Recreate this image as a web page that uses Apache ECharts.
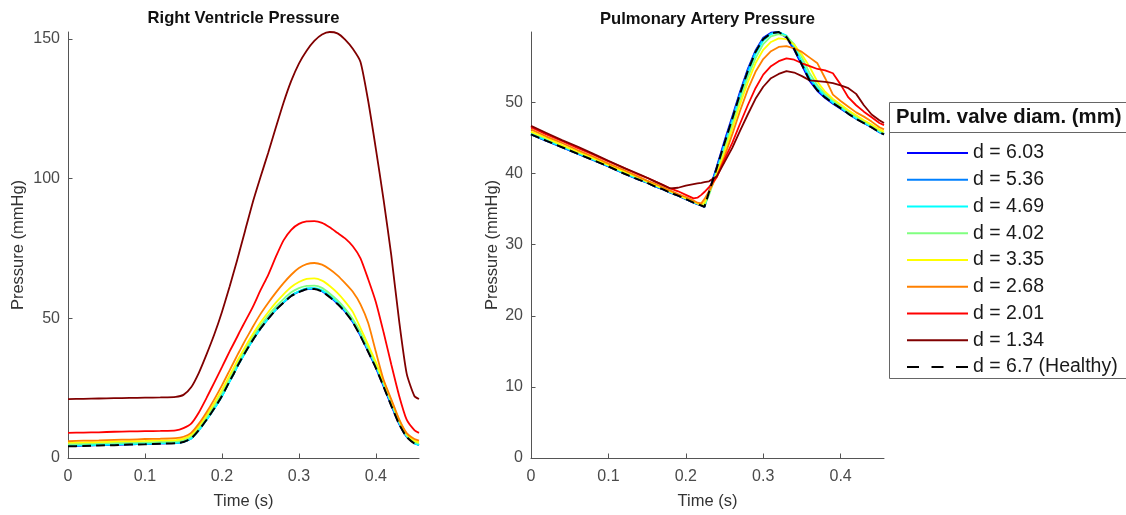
<!DOCTYPE html>
<html>
<head>
<meta charset="utf-8">
<script src="https://cdn.jsdelivr.net/npm/echarts@6/dist/echarts.min.js"></script>
<style>html,body{margin:0;padding:0;background:#fff}#c{width:1126px;height:515px}</style>
</head>
<body>
<div id="c"></div>
<script>
// Time samples (s)
const T = [0,0.02,0.04,0.06,0.08,0.10,0.12,0.14, 0.15,0.16,0.17,0.18,0.19,0.20,0.21, 0.215,0.22,0.224,0.23, 0.24,0.25,0.26,0.27,0.28,0.29,0.30,0.31,0.32,0.33,0.34,0.35,0.36,0.37,0.38,0.39,0.40,0.41,0.42,0.43,0.44,0.45, 0.456];

const names = ['d = 6.03','d = 5.36','d = 4.69','d = 4.02','d = 3.35','d = 2.68','d = 2.01','d = 1.34','d = 6.7 (Healthy)'];
const colors = ['#0000ff','#0080ff','#00ffff','#80ff80','#ffff00','#ff8000','#ff0000','#800000','#000000'];

// Right ventricle pressure (mmHg)
const rv603 = [4.3,4.4,4.6,4.7,4.9,5.0,5.2,5.4, 5.8,7.1,10.1,13.8,17.8,22.3,27.6, 30.1,32.9,34.9,37.8, 42.3,46.4,49.9,53.1,55.7,58.1,59.5,60.5,60.6,59.7,57.7,55.3,52.4,48.7,43.7,38.1,32.3,25.6,18.8,12.3,7.6,5.3, 4.7];
const rv536 = [4.4,4.5,4.6,4.8,4.9,5.0,5.2,5.4, 5.8,7.0,10.0,13.7,17.7,22.2,27.5, 30.0,32.8,34.8,37.7, 42.2,46.3,49.9,53.1,55.7,58.1,59.6,60.6,60.7,59.8,57.9,55.5,52.6,48.9,44.0,38.4,32.6,25.9,19.1,12.5,7.7,5.3, 4.7];
const rv469 = [4.5,4.6,4.7,4.9,5.0,5.1,5.3,5.4, 5.8,7.0,9.9,13.6,17.6,22.1,27.4, 29.9,32.7,34.7,37.6, 42.2,46.3,49.9,53.1,55.8,58.2,59.7,60.7,60.8,60.0,58.1,55.8,52.9,49.3,44.5,38.9,33.0,26.4,19.6,12.9,7.9,5.3, 4.7];
const rv402 = [5.0,5.1,5.2,5.4,5.5,5.6,5.8,5.9, 6.4,7.7,10.8,14.6,18.7,23.3,28.5, 31.1,33.8,35.8,38.7, 43.3,47.4,51.0,54.2,56.9,59.3,60.8,61.6,61.7,60.9,58.9,56.5,53.5,49.8,45.0,39.3,33.4,26.8,19.9,13.1,8.1,5.7, 5.1];
const rv335 = [5.5,5.6,5.7,5.9,6.0,6.1,6.3,6.4, 6.9,8.3,11.5,15.4,19.7,24.4,29.6, 32.2,34.8,36.8,39.7, 44.3,48.5,52.2,55.6,58.6,61.2,63.0,64.1,64.3,63.5,61.6,59.1,56.0,52.3,46.5,40.5,34.3,27.5,20.6,13.7,8.6,6.2, 5.6];
const rv268 = [6.0,6.2,6.3,6.5,6.6,6.8,6.9,7.1, 7.6,9.0,12.3,16.4,21.0,26.0,31.4, 34.1,36.8,38.9,42.0, 46.9,51.5,55.5,59.2,62.6,65.6,68.0,69.4,69.8,69.2,67.6,65.4,62.6,59.5,55.0,48.3,38.0,28.0,21.0,14.0,8.9,6.8, 6.2];
const rv201 = [9.0,9.1,9.2,9.4,9.5,9.6,9.7,9.9, 10.7,12.3,16.3,21.5,27.0,32.5,38.2, 40.8,43.5,45.7,48.8, 54.0,60.0,65.5,72.0,77.9,81.7,83.8,84.7,84.8,84.2,82.6,80.6,78.6,75.8,71.5,64.0,55.8,45.0,33.5,22.5,13.7,10.0, 9.0];
const rv134 = [21.1,21.2,21.3,21.4,21.5,21.6,21.7,21.9, 22.6,25.3,30.5,37.1,44.2,52.3,61.4, 66.2,71.1,75.2,81.3, 91.5,100.5,109.2,118.3,127.2,135.0,141.2,145.8,149.3,151.6,152.5,152.0,149.8,146.5,141.8,127.8,110.6,92.4,72.5,49.5,30.2,22.2, 21.1];
const rvHealthy = [4.2,4.3,4.5,4.6,4.8,4.9,5.1,5.3, 5.7,7.0,10.0,13.7,17.7,22.2,27.5, 30.0,32.8,34.8,37.7, 42.2,46.3,49.8,53.0,55.6,58.0,59.4,60.4,60.5,59.6,57.6,55.2,52.3,48.6,43.6,38.0,32.2,25.5,18.7,12.2,7.5,5.2, 4.6];

// Pulmonary artery pressure (mmHg)
const pa603 = [45.5,44.6,43.7,42.8,41.9,41.0,40.0,39.1, 38.7,38.2,37.8,37.3,36.9,36.4,35.9, 35.7,35.5,35.3,37.5, 41.0,44.6,48.0,51.5,54.7,57.3,59.1,59.8,59.9,59.1,57.4,55.2,53.0,51.6,50.6,49.8,49.1,48.4,47.7,47.1,46.5,45.8, 45.5];
const pa536 = [45.5,44.6,43.7,42.8,41.9,41.0,40.0,39.1, 38.7,38.2,37.8,37.3,36.9,36.4,35.9, 35.7,35.5,35.3,37.4, 40.8,44.3,47.8,51.3,54.5,57.2,59.0,59.7,59.9,59.3,57.7,55.5,53.3,51.8,50.8,49.9,49.2,48.4,47.7,47.1,46.5,45.8, 45.5];
const pa469 = [45.6,44.7,43.8,42.9,42.0,41.1,40.1,39.2, 38.8,38.3,37.9,37.4,37.0,36.5,36.0, 35.8,35.6,35.4,37.2, 40.4,43.9,47.3,50.8,54.0,56.8,58.7,59.6,59.9,59.4,57.9,55.7,53.5,52.0,50.9,50.0,49.3,48.5,47.8,47.2,46.6,45.9, 45.6];
const pa402 = [45.8,44.9,43.9,43.0,42.1,41.2,40.2,39.3, 38.8,38.4,37.9,37.4,37.0,36.5,36.0, 35.8,35.6,35.5,37.0, 40.2,43.5,46.9,50.3,53.5,56.2,58.2,59.3,59.6,59.3,58.2,56.3,54.1,52.4,51.2,50.3,49.5,48.7,48.0,47.4,46.7,46.0, 45.7];
const pa335 = [45.9,45.0,44.0,43.1,42.2,41.2,40.3,39.4, 38.9,38.4,37.9,37.5,37.0,36.5,36.1, 35.8,35.6,35.9,37.4, 40.0,43.0,46.3,49.7,52.8,55.5,57.4,58.5,59.0,58.9,58.1,56.7,55.0,52.9,51.5,50.5,49.7,48.9,48.2,47.5,46.9,46.2, 45.9];
const pa268 = [46.2,45.2,44.3,43.3,42.4,41.4,40.5,39.5, 39.0,38.6,38.1,37.6,37.1,36.7,36.2, 35.9,35.8,36.4,37.5, 39.6,42.4,45.5,48.8,51.8,54.3,56.1,57.2,57.8,57.9,57.6,57.1,56.3,55.5,53.4,51.1,50.2,49.4,48.6,48.0,47.3,46.5, 46.2];
const pa201 = [46.5,45.5,44.6,43.6,42.7,41.7,40.8,39.8, 39.4,38.9,38.4,37.9,37.5,37.0,36.5, 36.6,37.0,37.4,38.1, 39.5,42.0,44.3,47.0,49.6,52.0,53.9,55.1,55.8,56.2,56.0,55.5,55.1,54.7,54.5,54.1,52.5,50.7,49.6,48.7,47.9,47.1, 46.8];
const pa134 = [46.7,45.7,44.7,43.8,42.8,41.8,40.8,39.9, 39.4,38.9,38.4,37.9,38.0,38.3,38.5, 38.6,38.7,38.8,38.9, 39.6,41.6,43.6,46.0,48.3,50.5,52.2,53.4,54.0,54.4,54.2,53.7,53.1,53.0,52.9,52.7,52.4,52.0,51.2,49.6,48.3,47.5, 47.1];
const paHealthy = [45.5,44.6,43.7,42.8,41.9,41.0,40.0,39.1, 38.7,38.2,37.8,37.3,36.9,36.4,35.9, 35.7,35.5,35.3,37.4, 40.8,44.3,47.7,51.2,54.4,57.1,58.9,59.7,59.9,59.2,57.5,55.3,53.1,51.7,50.7,49.9,49.2,48.4,47.7,47.1,46.5,45.8, 45.5];

const xTicks = {min: 0, max: 0.456, interval: 0.1};
const rvTicks = {min: 0, max: 152.5, interval: 50};
const paTicks = {min: 0, max: 59.9, interval: 10};

const rvSets = [rv603, rv536, rv469, rv402, rv335, rv268, rv201, rv134, rvHealthy];
const paSets = [pa603, pa536, pa469, pa402, pa335, pa268, pa201, pa134, paHealthy];

const FONT = '"Liberation Sans", Arial, Helvetica, sans-serif';
const AX = '#555555';
const LBL = '#4a4a4a';

function xAxis(gi) {
  return {
    type: 'value', gridIndex: gi, min: xTicks.min, max: xTicks.max, interval: xTicks.interval,
    name: 'Time (s)', nameLocation: 'middle', nameGap: 35,
    nameTextStyle: {fontSize: 16.5, color: '#333', fontFamily: FONT},
    axisLine: {show: true, onZero: false, lineStyle: {color: AX, width: 1}},
    axisTick: {show: true, inside: true, length: 4.5, lineStyle: {color: AX}},
    axisLabel: {fontSize: 16, color: LBL, fontFamily: FONT, margin: 11, showMaxLabel: false},
    splitLine: {show: false}
  };
}
function yAxis(gi, tk, gap) {
  return {
    type: 'value', gridIndex: gi, min: tk.min, max: tk.max, interval: tk.interval,
    name: 'Pressure (mmHg)', nameLocation: 'middle', nameGap: gap,
    nameTextStyle: {fontSize: 16.5, color: '#333', fontFamily: FONT},
    axisLine: {show: true, onZero: false, lineStyle: {color: AX, width: 1}},
    axisTick: {show: true, inside: true, length: 4.5, lineStyle: {color: AX}},
    axisLabel: {fontSize: 16, color: LBL, fontFamily: FONT, margin: 8, showMaxLabel: false},
    splitLine: {show: false}
  };
}

const series = [];
[rvSets, paSets].forEach((sets, gi) => {
  sets.forEach((vals, k) => {
    const healthy = k === sets.length - 1;
    series.push({
      name: names[k], type: 'line', xAxisIndex: gi, yAxisIndex: gi,
      data: T.map((t, i) => [t, vals[i]]),
      showSymbol: false, symbol: 'none', smooth: gi === 0 ? 0.2 : false,
      clip: true, animation: false, z: 2 + k,
      lineStyle: {color: colors[k], width: healthy ? 2 : 1.8, type: healthy ? [9, 5] : 'solid'},
      itemStyle: {color: colors[k]}
    });
  });
});

const legendData = names.map((n, k) => k === names.length - 1
  ? {name: n, lineStyle: {type: [12, 12.5], width: 2}}
  : {name: n});

const chart = echarts.init(document.getElementById('c'), null, {renderer: 'canvas'});
chart.setOption({
  animation: false,
  backgroundColor: '#ffffff',
  grid: [
    {left: 68, top: 32, width: 351, height: 430, containLabel: false},
    {left: 531, top: 32, width: 353, height: 430, containLabel: false}
  ],
  xAxis: [xAxis(0), xAxis(1)],
  yAxis: [yAxis(0, rvTicks, 41), yAxis(1, paTicks, 30)],
  legend: {
    orient: 'vertical', left: 901, top: 138, itemWidth: 61, itemHeight: 14, itemGap: 6.75,
    selectedMode: false, data: legendData,
    itemStyle: {opacity: 0},
    lineStyle: {width: 1.8},
    textStyle: {fontSize: 19.5, color: '#1a1a1a', fontFamily: FONT, lineHeight: 20}
  },
  graphic: [
    {type: 'rect', z: 1, shape: {x: 889.5, y: 102.5, width: 260, height: 276}, style: {fill: '#fff', stroke: '#666', lineWidth: 1}},
    {type: 'line', z: 1, shape: {x1: 889.5, y1: 132.5, x2: 1130, y2: 132.5}, style: {stroke: '#666', lineWidth: 1}},
    {type: 'text', z: 5, x: 896, y: 117, style: {text: 'Pulm. valve diam. (mm)', font: 'bold 20.3px ' + FONT, fill: '#111', textAlign: 'left', textVerticalAlign: 'middle'}},
    {type: 'text', z: 5, x: 243.5, y: 18, style: {text: 'Right Ventricle Pressure', font: 'bold 16.6px ' + FONT, fill: '#111', textAlign: 'center', textVerticalAlign: 'middle'}},
    {type: 'text', z: 5, x: 707.5, y: 19.5, style: {text: 'Pulmonary Artery Pressure', font: 'bold 16.6px ' + FONT, fill: '#111', textAlign: 'center', textVerticalAlign: 'middle'}}
  ],
  series: series
});
</script>
</body>
</html>
